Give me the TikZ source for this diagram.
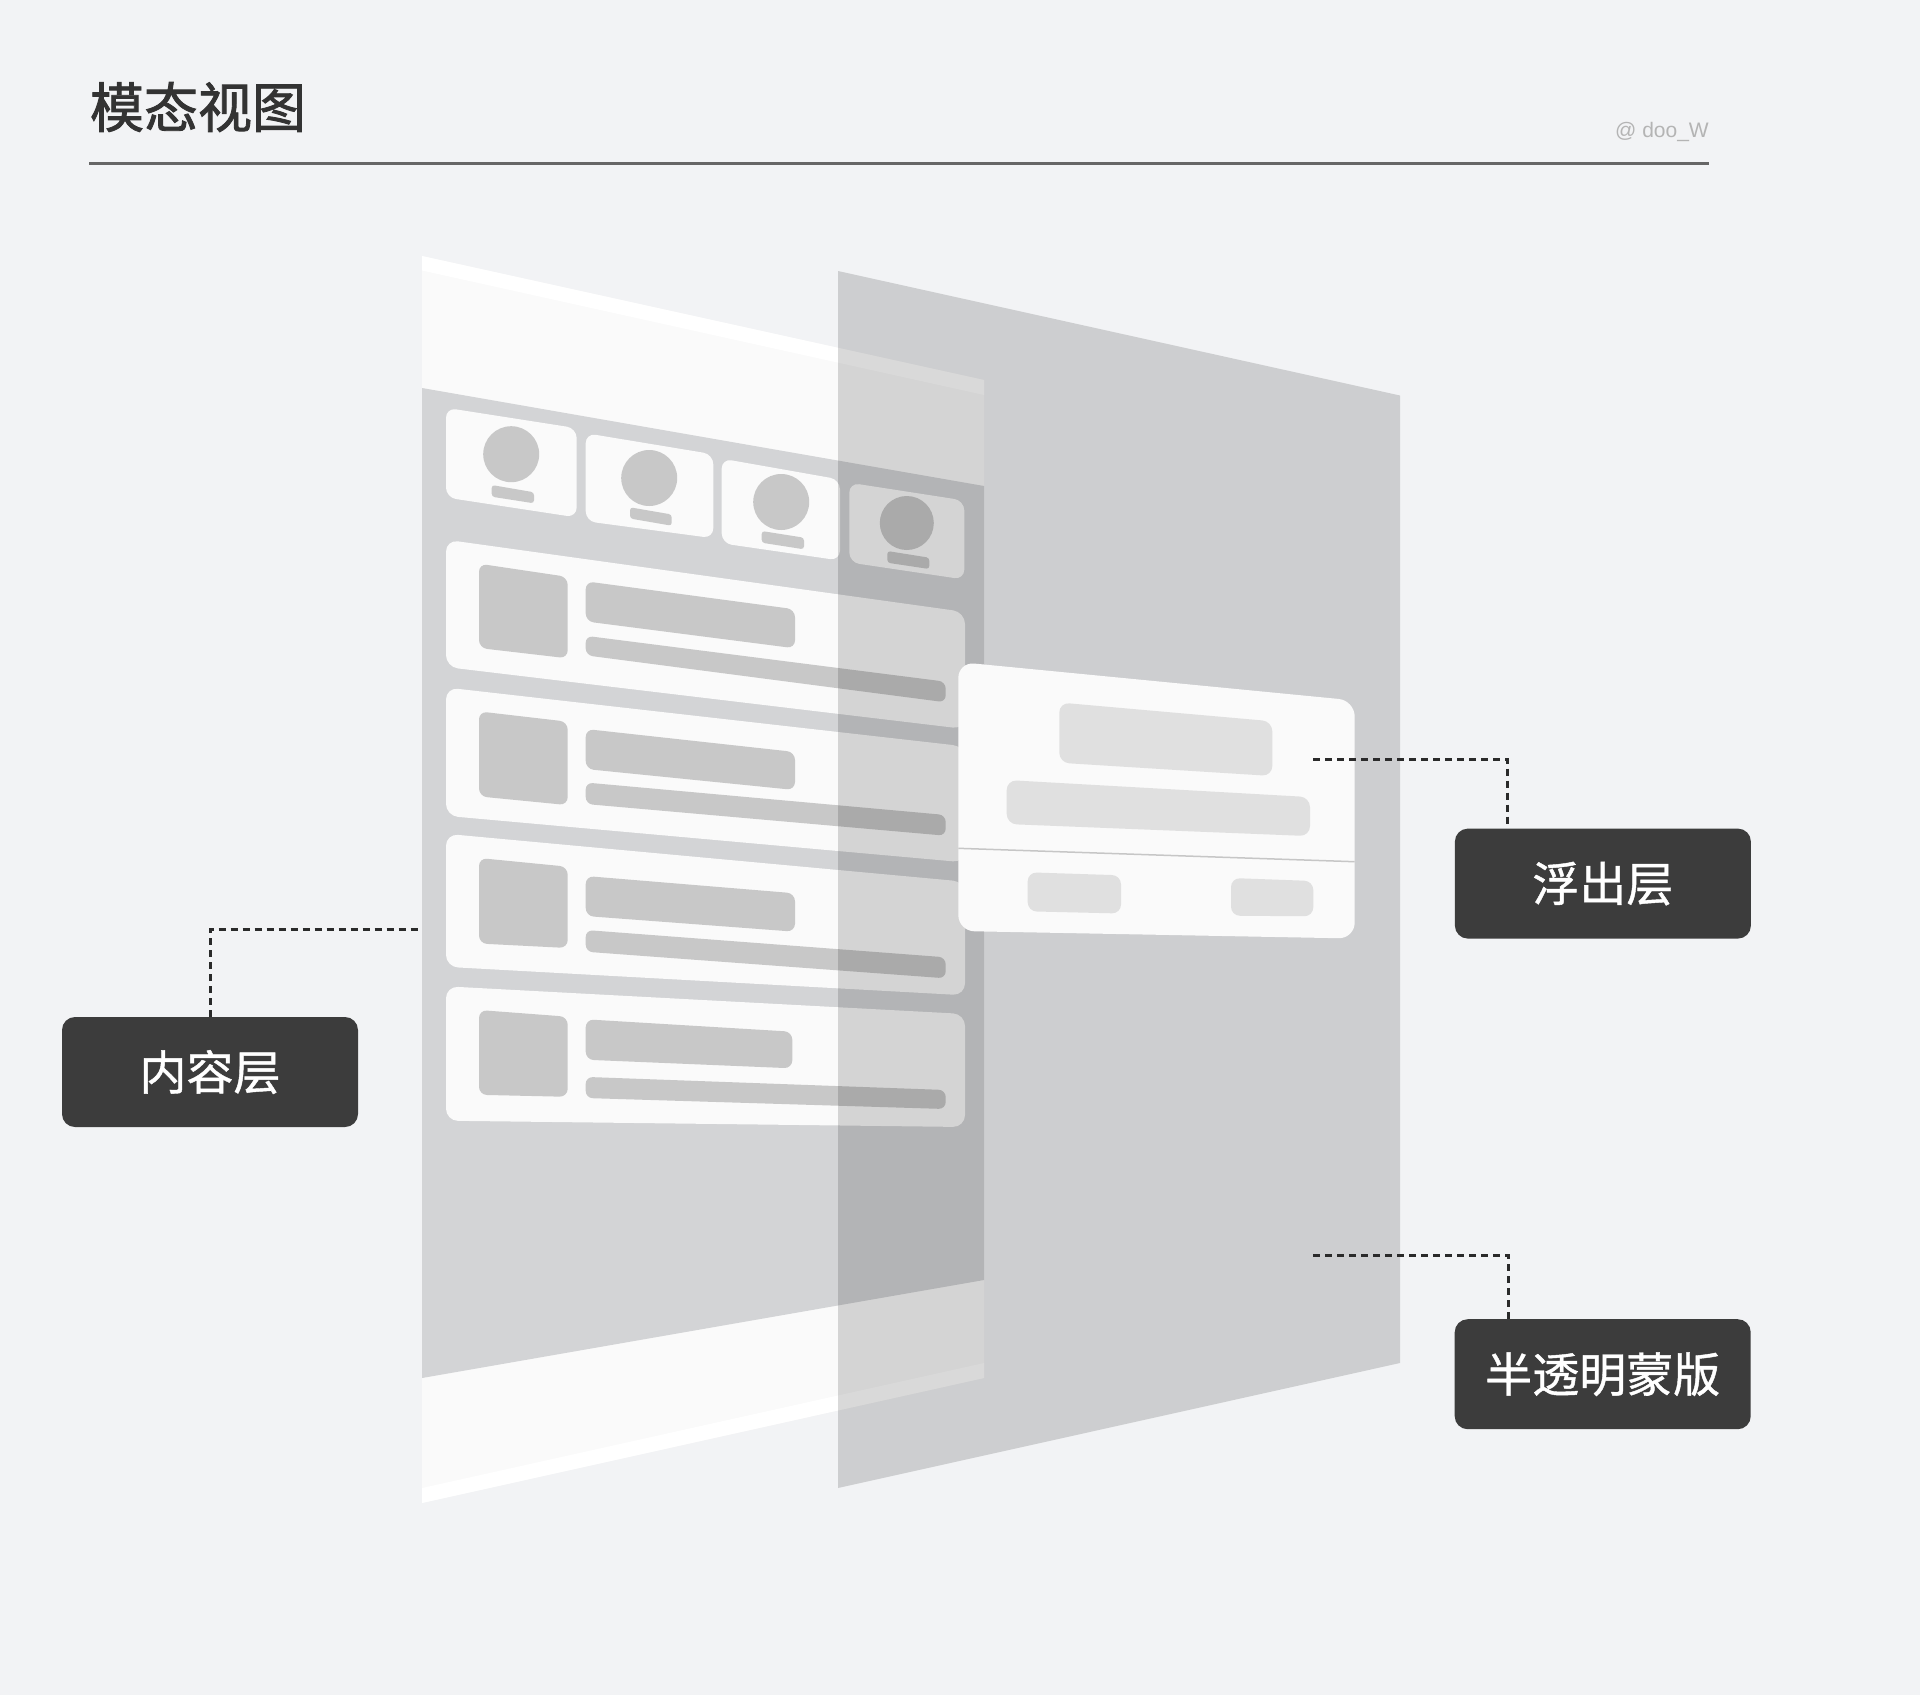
\documentclass[tikz,border=0pt]{standalone}
\usepackage{fontspec}
\setmainfont{Liberation Sans}
\newfontfamily\cjk[FakeBold=0.9]{Noto Sans CJK SC}
\newfontfamily\cjkt[FakeBold=1.6]{Noto Sans CJK SC}
\definecolor{bg}{HTML}{F2F3F5}
\definecolor{paper}{HTML}{FAFAFA}
\definecolor{contentgray}{HTML}{D3D4D6}
\definecolor{ph}{HTML}{C8C8C8}
\definecolor{popph}{HTML}{E0E0E0}
\definecolor{labelbg}{HTML}{3C3C3C}
\definecolor{ink}{HTML}{333333}
\definecolor{dashink}{HTML}{2A2A2A}
\definecolor{rulegray}{HTML}{666666}
\definecolor{wm}{HTML}{B4B4B4}
\definecolor{divider}{HTML}{C6C6C6}
% #1 xl, #2 xr, #3 y top-left, #4 y top-right, #5 y bottom-left, #6 y bottom-right, #7 options
\newcommand\pq[7]{\fill[#7] (#1,#3) -- (#2,#4) -- (#2,#6) -- (#1,#5) -- cycle;}
\tikzset{
  labelbox/.style={fill=labelbg, rounded corners=13pt, minimum width=296pt, minimum height=110pt,
    inner sep=0pt, text=white, font=\cjk\fontsize{47}{52}\selectfont},
  conn/.style={draw=dashink, line width=3pt, dash pattern=on 7pt off 5pt},
  cardfill/.style={fill=paper, rounded corners=#1},
  phfill/.style={fill=ph, rounded corners=#1},
  popfill/.style={fill=popph, rounded corners=#1}
}
\begin{document}
\begin{tikzpicture}[x=1pt, y=-1pt]
\fill[bg] (0,0) rectangle (1920,1695);
\useasboundingbox (0,0) rectangle (1920,1695);

% header
\node[font=\cjkt\fontsize{54}{60}\selectfont, text=ink, inner sep=0pt] (title) at (198,107) {模态视图};
\node[font=\fontsize{21}{24}\selectfont, text=wm, inner sep=0pt, anchor=base east] (credit) at (1709,137) {@ doo\_W};
\draw[rulegray, line width=3pt] (89,163) -- (1709,163);

% content layer panel
\fill[paper] (422,256) -- (984,380) -- (984,1378) -- (422,1503) -- cycle;
\fill[white] (422,256) -- (984,380) -- (984,395) -- (422,270.5) -- cycle;
\fill[white] (422,1488) -- (984,1363) -- (984,1378) -- (422,1503) -- cycle;
\fill[contentgray] (422,388) -- (984,486) -- (984,1280) -- (422,1378) -- cycle;

% avatar cards
\pq{446}{576.7}{407.8}{428.2}{497.5}{517.4}{cardfill=10pt}
\pq{585.7}{713.3}{433.2}{454.3}{521.2}{538.2}{cardfill=10pt}
\pq{721.7}{840}{458.6}{479.5}{543.3}{560.5}{cardfill=10pt}
\pq{849.3}{964.3}{482.7}{500.5}{562.4}{579.5}{cardfill=10pt}
\fill[ph] (511.2,454.2) circle[radius=28];
\fill[ph] (649.2,478) circle[radius=28];
\fill[ph] (781.2,502) circle[radius=28];
\fill[ph] (906.8,523) circle[radius=27];
\pq{491.7}{534}{485}{492.3}{496.7}{503.3}{phfill=3pt}
\pq{630}{671.7}{507.3}{514.5}{518.5}{525.7}{phfill=3pt}
\pq{761.7}{804}{531}{537.7}{542.7}{549.3}{phfill=3pt}
\pq{887.3}{929.3}{551}{557.7}{562.7}{569}{phfill=3pt}

% list cards
\pq{446}{965}{539.7}{612}{667}{729}{cardfill=12pt}
\pq{446}{965}{687.5}{746.4}{815.8}{862.4}{cardfill=12pt}
\pq{446}{965}{833.8}{881.7}{966.8}{995.3}{cardfill=12pt}
\pq{446}{965}{986.3}{1014}{1120.7}{1127}{cardfill=12pt}
% thumbnails
\pq{479}{567.7}{563.7}{576.9}{648}{658.3}{phfill=8pt}
\pq{479}{567.7}{711.4}{721.7}{796.4}{805.1}{phfill=8pt}
\pq{479}{567.7}{858}{866.7}{943.5}{948}{phfill=8pt}
\pq{479}{567.7}{1010}{1016.7}{1094.8}{1096.8}{phfill=8pt}
% title bars
\pq{585.7}{795}{581.3}{609.3}{621.4}{648.3}{phfill=8pt}
\pq{585.7}{795}{729}{752}{769}{790}{phfill=8pt}
\pq{585.7}{795}{876}{893.3}{916}{931.7}{phfill=8pt}
\pq{585.7}{792.3}{1019.3}{1031.7}{1059.7}{1068.3}{phfill=8pt}
% text bars
\pq{585.7}{945.7}{635.8}{681.7}{655.3}{702.3}{phfill=7pt}
\pq{585.7}{945.7}{782.5}{815}{804}{835.7}{phfill=7pt}
\pq{585.7}{945.7}{930}{957.3}{951.7}{978.3}{phfill=7pt}
\pq{585.7}{945.7}{1076.9}{1090}{1098}{1109}{phfill=7pt}

% semi-transparent mask
\fill[black, fill opacity=0.15] (838,271) -- (1400,395.5) -- (1400,1363) -- (838,1488) -- cycle;

% floating layer
\pq{958.3}{1354.7}{662}{700.5}{931}{938.5}{cardfill=16pt}
\pq{1059.3}{1272.3}{702.5}{721.3}{762.7}{776}{popfill=10pt}
\pq{1006.7}{1310}{780}{797.1}{824}{836.1}{popfill=10pt}
\draw[divider, line width=1.5pt] (958.3,848.3) -- (1354.7,861.7);
\pq{1027.7}{1121}{872.3}{875.3}{911.3}{913.5}{popfill=9pt}
\pq{1231}{1313.3}{878}{881}{915.7}{916.3}{popfill=9pt}

% labels
\node[labelbox] (content) at (210,1072) {内容层};
\node[labelbox] (float) at (1602.9,883.6) {浮出层};
\node[labelbox] (mask) at (1602.7,1374.2) {半透明蒙版};

\coordinate (contentend) at (421.5,929.3);
\coordinate (floatend) at (1313,759.3);
\coordinate (maskend) at (1313,1255.5);
\draw[conn] (content.north) |- (contentend);
\draw[conn] (floatend) -| ([xshift=53pt]float.north west);
\draw[conn] (maskend) -| ([xshift=54pt]mask.north west);
\end{tikzpicture}
\end{document}
